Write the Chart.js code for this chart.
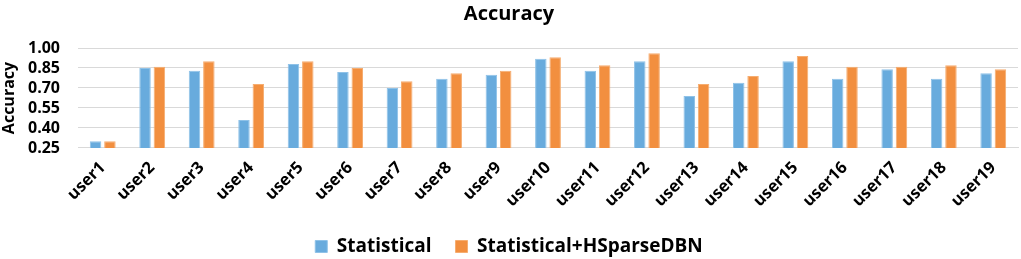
<!DOCTYPE html>
<html>
<head>
<meta charset="utf-8">
<script src="https://cdn.jsdelivr.net/npm/chart.js@4/dist/chart.umd.min.js"></script>
<style>
  html, body { margin: 0; padding: 0; background: #fff; }
  #wrap { width: 1021px; height: 259px; }
</style>
</head>
<body>
<div id="wrap"><canvas id="accuracy-bar"></canvas></div>
<script>
const users = ["user1","user2","user3","user4","user5","user6","user7","user8","user9","user10",
  "user11","user12","user13","user14","user15","user16","user17","user18","user19"];
const statistical = [0.30,0.85,0.83,0.46,0.88,0.82,0.70,0.77,0.80,0.92,0.83,0.90,0.64,0.74,0.90,0.77,0.84,0.77,0.81];
const hsparse = [0.30,0.86,0.90,0.73,0.90,0.85,0.75,0.81,0.83,0.93,0.87,0.96,0.73,0.79,0.94,0.86,0.86,0.87,0.84];
const yTicks = [0.25, 0.40, 0.55, 0.70, 0.85, 1.00];

document.addEventListener("DOMContentLoaded", () => {
  const canvas = document.getElementById("accuracy-bar");
  const ctx = canvas.getContext("2d");
  const fam = "'Open Sans', Lato, sans-serif";

  new Chart(ctx, {
    type: "bar",
    data: {
      labels: users,
      datasets: [{
        label: "Statistical",
        data: statistical,
        backgroundColor: "#68abdd",
        borderColor: "#8fc2e8",
        borderWidth: 1,
        categoryPercentage: 0.58,
        barPercentage: 0.8
      }, {
        label: "Statistical+HSparseDBN",
        data: hsparse,
        backgroundColor: "#f28f3f",
        borderColor: "#f6ad70",
        borderWidth: 1,
        categoryPercentage: 0.58,
        barPercentage: 0.8
      }]
    },
    options: {
      responsive: true,
      maintainAspectRatio: false,
      animation: false,
      layout: { padding: { left: 0, right: 3, top: 0, bottom: -7 } },
      plugins: {
        title: {
          display: true,
          text: "Accuracy",
          color: "#000",
          font: { family: fam, size: 20, weight: "bold" },
          padding: { top: 2, bottom: 22 }
        },
        legend: {
          position: "bottom",
          labels: {
            color: "#000",
            font: { family: fam, size: 19, weight: "bold" },
            boxWidth: 12,
            boxHeight: 12,
            padding: 24
          }
        },
        tooltip: { enabled: false }
      },
      scales: {
        x: {
          grid: { display: false },
          border: { color: "#d9d9d9" },
          ticks: {
            color: "#000",
            font: { family: fam, size: 16.5, weight: "bold" },
            maxRotation: 45,
            minRotation: 45,
            padding: 2
          }
        },
        y: {
          min: 0.25,
          max: 1.00,
          afterBuildTicks: axis => { axis.ticks = yTicks.map(v => ({ value: v })); },
          afterFit: axis => { axis.width = 78; },
          grid: { color: "#d9d9d9", drawTicks: false },
          border: { display: false },
          title: {
            display: true,
            text: "Accuracy",
            color: "#000",
            font: { family: fam, size: 16, weight: "bold" },
            padding: { top: 0, bottom: 0 }
          },
          ticks: {
            color: "#000",
            font: { family: fam, size: 16, weight: "bold" },
            autoSkip: false,
            padding: 18,
            callback: v => v.toFixed(2)
          }
        }
      }
    }
  });
});
</script>
</body>
</html>
